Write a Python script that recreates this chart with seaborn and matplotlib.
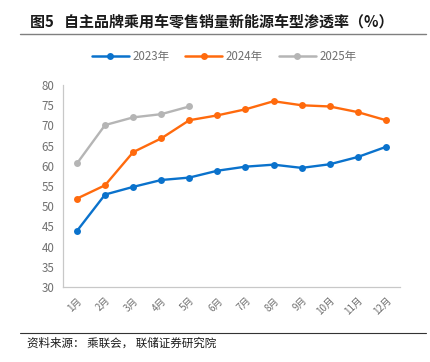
import numpy as np
import pandas as pd
import matplotlib
matplotlib.use("Agg")
import matplotlib.pyplot as plt
from matplotlib.lines import Line2D
import seaborn as sns

# data
months = ["1月", "2月", "3月", "4月", "5月", "6月", "7月", "8月", "9月", "10月", "11月", "12月"]
y2023 = [43.9, 52.9, 54.8, 56.5, 57.1, 58.8, 59.8, 60.3, 59.5, 60.4, 62.2, 64.7]
y2024 = [51.9, 55.2, 63.4, 66.8, 71.3, 72.5, 74.0, 76.0, 75.0, 74.7, 73.3, 71.3]
y2025 = [60.6, 70.1, 72.0, 72.8, 74.7]
series_names = ["2023年", "2024年", "2025年"]
colors = ["#0a72cc", "#ff6a0d", "#b5b5b5"]

rows = []
for name, vals in zip(series_names, [y2023, y2024, y2025]):
    for i, v in enumerate(vals):
        rows.append({"month": i, "value": v, "year": name})
df = pd.DataFrame(rows)

sns.set_theme(style="white")
plt.rcParams['font.family'] = ['Noto Sans CJK SC', 'DejaVu Sans']

fig = plt.figure(figsize=(4.31, 3.62), dpi=100)
ax = fig.add_axes([0.146, 0.207, 0.782, 0.558])

sns.lineplot(data=df, x="month", y="value", hue="year", palette=colors,
             marker="o", markersize=5, markeredgewidth=0, linewidth=1.7,
             legend=False, ax=ax)

grey = "#c8c8c8"
ax.set_xlim(-0.5, len(months) - 0.5)
ax.set_ylim(30, 80)
ax.set_yticks(np.arange(30, 81, 5))
ax.set_xticks(range(len(months)))
ax.set_xticklabels(months, rotation=45, ha="right", rotation_mode="anchor")
ax.set_xticks(np.arange(-0.5, len(months)), minor=True)
ax.tick_params(axis="x", which="major", length=0, pad=6, labelsize=7, labelcolor="#707070")
ax.tick_params(axis="x", which="minor", length=3, width=0.8, color=grey, direction="out")
ax.tick_params(axis="y", length=3, width=0.8, color=grey, direction="out",
               labelsize=8.3, labelcolor="#707070", pad=3)
ax.set_xlabel("")
ax.set_ylabel("")
for s in ["top", "right"]:
    ax.spines[s].set_visible(False)
for s in ["left", "bottom"]:
    ax.spines[s].set_color(grey)
    ax.spines[s].set_linewidth(0.9)

# legend
handles = [Line2D([0], [0], color=c, lw=1.8, marker="o", markersize=5, markeredgewidth=0)
           for c in colors]
fig.legend(handles, series_names, loc="center", bbox_to_anchor=(0.52, 0.845), ncol=3,
           frameon=False, fontsize=8.3, handlelength=3.2, columnspacing=1.4,
           handletextpad=0.3, labelcolor="#707070")

# title and source
fig.text(0.07, 0.94, "图5   自主品牌乘用车零售销量新能源车型渗透率（%）",
         fontsize=10.8, fontweight="bold", color="#1a1a1a", va="center")
fig.add_artist(Line2D([0.046, 0.988], [0.906, 0.906], color="#7f7f7f", lw=1.0))
fig.add_artist(Line2D([0.046, 0.988], [0.08, 0.08], color="#333333", lw=0.8))
fig.text(0.063, 0.052, "资料来源： 乘联会， 联储证券研究院", fontsize=8.3, color="#1a1a1a", va="center")

fig.savefig("out.png", dpi=100)
